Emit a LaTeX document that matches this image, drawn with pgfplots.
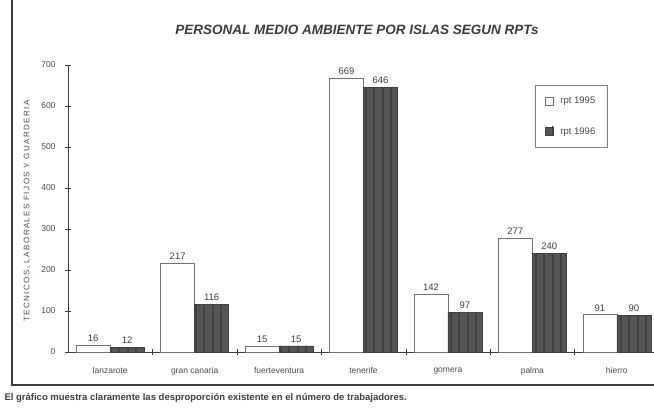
\documentclass[border=0pt]{standalone}
\usepackage{pgfplots}
\pgfplotsset{compat=1.18}
\usetikzlibrary{patterns.meta}
\usepackage{fontspec}
\setmainfont{Liberation Sans}
\definecolor{ink}{RGB}{60,60,60}
\definecolor{darkbar}{RGB}{85,85,85}
\begin{document}
\begin{tikzpicture}[x=1pt,y=1pt]
\useasboundingbox[fill=white] (0,0) rectangle (654,410);
% outer frame
\draw[line width=2pt, ink] (12,410) -- (12,25) -- (660,25);
\node[font=\bfseries\itshape\fontsize{13.5}{15}\selectfont, text=ink] at (357,380) {PERSONAL MEDIO AMBIENTE POR ISLAS SEGUN RPTs};
\node[anchor=west, font=\bfseries\fontsize{9.5}{11}\selectfont, text=black!75] at (1,12) {El gráfico muestra claramente las desproporción existente en el número de trabajadores.};
\node[rotate=90, font=\fontsize{8}{9}\selectfont\addfontfeatures{LetterSpace=18}, text=black!70] at (27,199) {TECNICOS, LABORALES FIJOS Y GUARDERIA};
\begin{axis}[
  at={(68pt,58pt)}, anchor=south west,
  scale only axis, width=591pt, height=287pt,
  xmin=-0.5, xmax=6.5, ymin=0, ymax=700,
  axis lines=left, axis line style={ink, -},
  ybar=0pt, bar width=34pt,
  ytick={0,100,...,700},
  xtick={0,...,6},
  xticklabels={lanzarote,gran canaria,fuerteventura,tenerife,gomera,palma,hierro},
  major x tick style={draw=none},
  minor xtick={0.5,1.5,...,6.5},
  minor tick length=6pt,
  major tick length=6pt,
  tick align=center,
  tick style={ink},
  /pgf/number format/assume math mode=true,
  ticklabel style={font=\fontsize{8.5}{9}\selectfont, text=black!70},
  yticklabel style={xshift=-6pt},
  xticklabel style={yshift=-9pt},
  nodes near coords,
  every node near coord/.append style={font=\fontsize{9.5}{10}\selectfont, text=black!75},
  clip=false,
  legend style={at={(0.79,0.93)}, anchor=north west, draw=black!50,
    font=\fontsize{9.5}{10}\selectfont, text=black!70, row sep=18pt, column sep=5pt,
    inner xsep=10pt, inner ysep=10pt, cells={anchor=west}},
  legend image code/.code={\draw[#1] (0cm,-0.14cm) rectangle (0.28cm,0.16cm);},
]
\addplot[draw=black!55, fill=white] coordinates {(0,16) (1,217) (2,15) (3,669) (4,142) (5,277) (6,91)};
\addplot[draw=black!75, fill=darkbar, postaction={pattern={Lines[angle=90, distance=8.5pt, line width=2pt]}, pattern color=black!75}] coordinates {(0,12) (1,116) (2,15) (3,646) (4,97) (5,240) (6,90)};
\legend{rpt 1995, rpt 1996}
\end{axis}
\end{tikzpicture}
\end{document}
